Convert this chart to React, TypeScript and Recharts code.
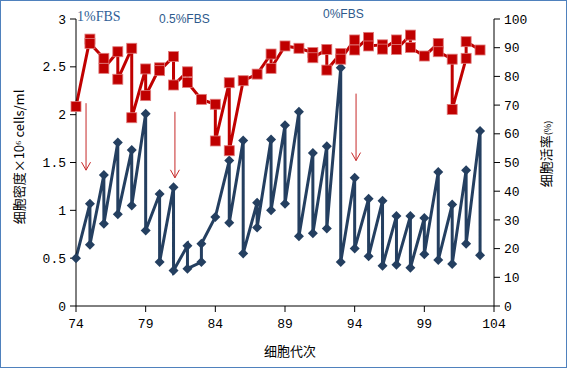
import { Line, LineChart, ReferenceLine, XAxis, YAxis } from "recharts";

// passage number and cell density (×10^6 cells/ml), in drawing order
const densityPassage = [
  74, 75, 75, 76, 76, 77, 77, 78, 78, 79, 79, 80, 80, 81, 81, 82, 82, 83, 83, 84,
  85, 85, 86, 86, 87, 87, 88, 88, 89, 89, 90, 90, 91, 91, 92, 92, 93, 93, 94, 94,
  95, 95, 96, 96, 97, 97, 98, 98, 99, 99, 100, 100, 101, 101, 102, 102, 103, 103,
];
const densityValues = [
  0.5, 1.07, 0.64, 1.37, 0.86, 1.71, 0.96, 1.63, 1.05, 2.01, 0.79, 1.17, 0.46, 1.24, 0.37, 0.63, 0.39, 0.46, 0.65, 0.93,
  1.52, 0.87, 1.73, 0.55, 1.08, 0.82, 1.74, 1.0, 1.89, 1.07, 2.03, 0.73, 1.6, 0.76, 1.67, 0.81, 2.49, 0.46, 1.34, 0.6,
  1.12, 0.52, 1.1, 0.42, 0.94, 0.43, 0.94, 0.4, 0.92, 0.54, 1.4, 0.48, 1.06, 0.44, 1.42, 0.65, 1.83, 0.53,
];

// passage number and viability (%), in drawing order
const viabilityPassage = [
  74, 75, 75, 76, 76, 77, 77, 78, 78, 79, 79, 80, 80, 81, 81, 82, 82, 83, 84, 84,
  85, 85, 86, 87, 88, 88, 89, 90, 91, 91, 92, 92, 93, 93, 94, 94, 95, 95, 96, 96,
  97, 97, 98, 98, 99, 100, 100, 101, 101, 102, 102, 103,
];
const viabilityValues = [
  69.5, 93, 91.5, 86.3, 82.8, 88.6, 79, 89.8, 65.6, 82.6, 73.3, 83, 82, 86.9, 77, 81.6, 77.9, 72, 70.3, 57.5,
  77.8, 54.1, 78.5, 80.8, 87.8, 82.8, 90.6, 89.8, 88.3, 86.5, 89.4, 82.2, 88, 86, 92.7, 89.2, 93.6, 90.6, 91, 89.5,
  92.7, 89.4, 94.4, 90.1, 87.1, 91.5, 88.6, 86, 68.5, 86.3, 92.1, 89.2,
];

const xTicks = [74, 79, 84, 89, 94, 99, 104];
const leftTicks = [0, 0.5, 1, 1.5, 2, 2.5, 3];
const rightTicks = [0, 10, 20, 30, 40, 50, 60, 70, 80, 90, 100];

// medium change arrows: passage, start density, end density
const arrows = [
  { x: 74.72, from: 2.12, to: 1.42 },
  { x: 81.1, from: 2.03, to: 1.34 },
  { x: 94.1, from: 2.22, to: 1.52 },
];

const density = densityPassage.map((x, i) => ({ x, y: densityValues[i] }));
const viability = viabilityPassage.map((x, i) => ({ x, y: viabilityValues[i] }));

const BLUE = "#243f60";
const RED = "#c00000";
const tickStyle = { fill: "#000", fontSize: 13, fontFamily: "Liberation Mono" };

const Diamond = (p: any) => {
  const { cx, cy } = p;
  if (cx == null || cy == null) return <g key={`d-${p.index}`} />;
  return (
    <path
      key={`d-${p.index}`}
      d={`M${cx},${cy - 5} L${cx + 5},${cy} L${cx},${cy + 5} L${cx - 5},${cy} Z`}
      fill={BLUE}
    />
  );
};

const Square = (p: any) => {
  const { cx, cy } = p;
  if (cx == null || cy == null) return <g key={`s-${p.index}`} />;
  return (
    <rect
      key={`s-${p.index}`}
      x={cx - 5}
      y={cy - 5}
      width={10}
      height={10}
      fill={RED}
      stroke="#e07a7a"
      strokeWidth={0.8}
    />
  );
};

const Arrow = (p: any) => {
  const { x1, y1, x2, y2 } = p;
  return (
    <g>
      <line x1={x1} y1={y1} x2={x2} y2={y2} stroke="#c62828" strokeWidth={1} />
      <path
        d={`M${x2 - 4.5},${y2 - 8} L${x2},${y2} L${x2 + 4.5},${y2 - 8}`}
        fill="none"
        stroke="#c62828"
        strokeWidth={1}
      />
    </g>
  );
};

export default function App() {
  return (
    <div
      style={{
        position: "fixed",
        left: 0,
        top: 0,
        width: 567,
        height: 369,
        background: "#fff",
      }}
    >
      <div
        style={{
          position: "absolute",
          left: 0,
          top: 0,
          width: 567,
          height: 368,
          boxSizing: "border-box",
          border: "1px solid #4f81bd",
        }}
      />
      <LineChart width={567} height={369} margin={{ top: 19, right: 0, bottom: 0, left: 0 }}>
        <XAxis
          dataKey="x"
          type="number"
          domain={[74, 104]}
          ticks={xTicks}
          height={63}
          tick={tickStyle}
          tickSize={6}
          tickMargin={7}
          stroke="#000"
        />
        <YAxis
          yAxisId="left"
          domain={[0, 3]}
          ticks={leftTicks}
          width={76}
          tick={tickStyle}
          tickSize={6}
          tickMargin={4}
          stroke="#000"
        />
        <YAxis
          yAxisId="right"
          orientation="right"
          domain={[0, 100]}
          ticks={rightTicks}
          width={73}
          tick={tickStyle}
          tickSize={6}
          tickMargin={4}
          stroke="#000"
        />
        {arrows.map((a, i) => (
          <ReferenceLine
            key={`arrow-${i}`}
            yAxisId="left"
            segment={[
              { x: a.x, y: a.from },
              { x: a.x, y: a.to },
            ]}
            shape={Arrow}
          />
        ))}
        <Line
          yAxisId="left"
          data={density}
          dataKey="y"
          stroke={BLUE}
          strokeWidth={3}
          dot={Diamond}
          activeDot={false}
          isAnimationActive={false}
        />
        <Line
          yAxisId="right"
          data={viability}
          dataKey="y"
          stroke={RED}
          strokeWidth={3}
          dot={Square}
          activeDot={false}
          isAnimationActive={false}
        />
      </LineChart>

      {/* annotations */}
      <div style={{ position: "absolute", left: 77, top: 9, fontFamily: "Liberation Serif", fontSize: 14, color: "#2f5f98" }}>
        1%FBS
      </div>
      <div style={{ position: "absolute", left: 159, top: 12, fontFamily: "Liberation Sans", fontSize: 12, color: "#2e5a8c" }}>
        0.5%FBS
      </div>
      <div style={{ position: "absolute", left: 323, top: 7, fontFamily: "Liberation Sans", fontSize: 12, color: "#2e5a8c" }}>
        0%FBS
      </div>

      {/* axis titles */}
      <div
        style={{
          position: "absolute",
          left: 18,
          top: 157,
          transform: "translate(-50%, -50%) rotate(-90deg)",
          whiteSpace: "nowrap",
          fontFamily: "'Noto Sans CJK SC'",
          fontSize: 13,
          color: "#000",
        }}
      >
        细胞密度×10⁶ cells/ml
      </div>
      <div
        style={{
          position: "absolute",
          left: 545,
          top: 154,
          transform: "translate(-50%, -50%) rotate(-90deg)",
          whiteSpace: "nowrap",
          fontFamily: "'Noto Sans CJK SC'",
          fontSize: 13,
          color: "#000",
        }}
      >
        细胞活率<span style={{ fontSize: 9 }}>(%)</span>
      </div>
      <div
        style={{
          position: "absolute",
          left: 290,
          top: 350,
          transform: "translate(-50%, -50%)",
          whiteSpace: "nowrap",
          fontFamily: "'Noto Sans CJK SC'",
          fontSize: 13,
          color: "#000",
        }}
      >
        细胞代次
      </div>
    </div>
  );
}
